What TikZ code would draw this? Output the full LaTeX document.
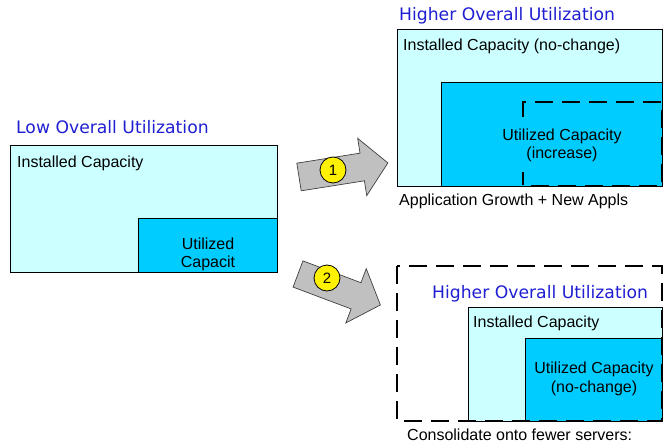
\documentclass[tikz,border=0pt]{standalone}
\usepackage{fontspec}
\setmainfont{Liberation Sans}
\newfontfamily\titlefont{DejaVu Sans}
\definecolor{installfill}{HTML}{CCFFFF}
\definecolor{usedfill}{HTML}{00CCFF}
\definecolor{titleblue}{RGB}{30,30,210}
\definecolor{arrowgray}{HTML}{C0C0C0}
\tikzset{
  capbox/.style={draw=black, line width=0.9pt, fill=installfill},
  usedbox/.style={draw=black, line width=0.9pt, fill=usedfill},
  dashbox/.style={draw=black, line width=2.8pt, dash pattern=on 18pt off 9pt},
  lbl/.style={anchor=base west, inner sep=0pt, font=\fontsize{16}{18}\selectfont},
  clbl/.style={anchor=base, inner sep=0pt, font=\fontsize{16}{18}\selectfont},
  ttl/.style={anchor=base west, inner sep=0pt, text=titleblue, font=\titlefont\fontsize{17.2}{20}\selectfont},
  blockarrow/.style={draw=black!75, line width=0.7pt, fill=arrowgray},
  badge/.style={circle, draw=black, line width=0.8pt, fill=yellow, minimum size=26pt, inner sep=0pt, font=\fontsize{15}{15}\selectfont}
}
\begin{document}
\begin{tikzpicture}[x=1pt, y=-1pt]
\useasboundingbox (0,0) rectangle (664,444);
% Left panel
\node[ttl] (ltitle) at (16,133) {Low Overall Utilization};
\draw[capbox] (10,145) rectangle (277,272);
\draw[usedbox] (138,218) rectangle (277,272);
\node[lbl] (linst) at (17,167) {Installed Capacity};
\node[clbl] (lused1) at (208,249) {Utilized};
\node[clbl] (lused2) at (208,267) {Capacit};
% Arrow 1
\draw[blockarrow, shift={(299,177)}, rotate=9]
  (0,-14) -- (64,-14) -- (64,-29) -- (90,0) -- (64,29) -- (64,14) -- (0,14) -- cycle;
\node[badge] (b1) at (333,170) {1};
% Arrow 2
\draw[blockarrow, shift={(298,274)}, rotate=-20.6]
  (0,-14) -- (62,-14) -- (62,-29) -- (88,0) -- (62,29) -- (62,14) -- (0,14) -- cycle;
\node[badge] (b2) at (327,278) {2};
% Top right panel
\node[ttl] (ttitle) at (399,21) {Higher Overall Utilization};
\draw[capbox] (397,29) rectangle (662,186);
\draw[usedbox] (441,82) rectangle (662,186);
\draw[dashbox] (523,117) -- (523,102) -- (662,102) -- (662,186) -- (523,186) -- (523,172);
\node[lbl] (tinst) at (403,51) {Installed Capacity (no-change)};
\node[clbl] (tused1) at (562,140) {Utilized Capacity};
\node[clbl] (tused2) at (562,158) {(increase)};
\node[lbl] (tnote) at (399,205) {Application Growth + New Appls};
% Bottom right panel
\draw[capbox] (468,307) rectangle (662,421);
\draw[usedbox] (525,338) rectangle (662,421);
\draw[dashbox] (397,266) rectangle (662,421);
\node[ttl] (btitle) at (432,298) {Higher Overall Utilization};
\node[lbl] (binst) at (473,327) {Installed Capacity};
\node[clbl] (bused1) at (594,373) {Utilized Capacity};
\node[clbl] (bused2) at (594,392) {(no-change)};
\node[lbl] (bnote) at (407,440) {Consolidate onto fewer servers:};
\end{tikzpicture}
\end{document}
